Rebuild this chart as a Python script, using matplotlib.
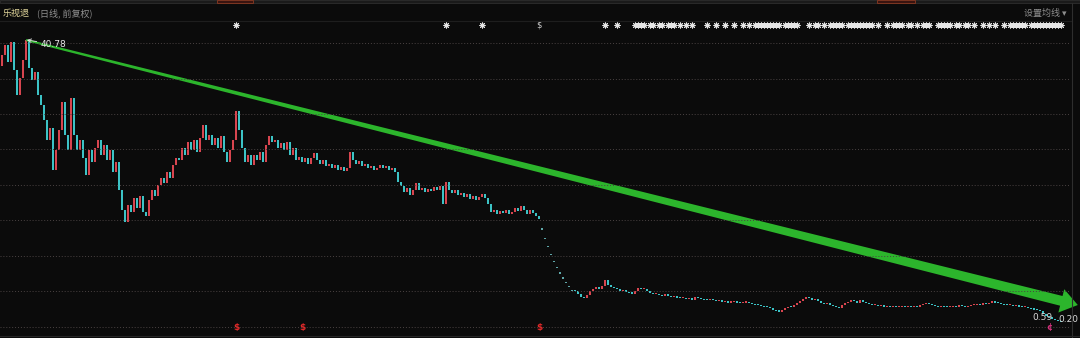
import matplotlib
matplotlib.use('Agg')
import matplotlib.pyplot as plt
import numpy as np
from matplotlib.patches import Polygon, Rectangle
from matplotlib.transforms import IdentityTransform

plt.rcParams['font.family'] = ['Noto Sans CJK SC', 'DejaVu Sans']
plt.rcParams['axes.unicode_minus'] = False

# 停牌前日线收盘价 (前复权)
pre_close = [38.6, 40.1, 37.6, 40.5, 36.5, 32.9, 35.3, 37.9, 40.78, 36.8,
             35.0, 36.2, 32.9, 31.4, 29.3, 26.4, 28.1, 22.1, 25.0, 27.8,
             31.9, 27.1, 25.0, 32.4, 27.1, 25.0, 26.4, 23.8, 21.4, 25.0,
             23.2, 25.3, 26.4, 24.2, 25.7, 23.5, 25.0, 21.8, 23.2, 19.2,
             16.3, 14.6, 17.0, 16.0, 18.0, 16.6, 18.3, 16.0, 15.5, 17.8,
             19.2, 18.3, 19.9, 20.9, 20.2, 21.8, 20.9, 22.8, 23.8, 23.5,
             25.3, 24.2, 26.1, 25.0, 26.4, 24.7, 26.7, 28.5, 26.4, 27.1,
             25.7, 26.7, 25.3, 27.0, 24.7, 23.2, 25.0, 26.4, 30.6, 27.8,
             25.3, 23.2, 24.2, 22.8, 24.2, 23.5, 24.7, 23.2, 25.7, 27.0,
             26.1, 26.4, 25.3, 25.9, 25.0, 26.1, 24.2, 25.3, 23.5, 24.0,
             23.2, 23.8, 22.9, 23.8, 24.5, 23.5, 23.0, 23.5, 22.6, 23.0,
             22.3, 22.8, 22.1, 22.5, 22.0, 22.3, 24.7, 23.5, 23.0, 23.4,
             22.6, 22.9, 22.3, 22.6, 22.1, 22.3, 22.8, 22.3, 22.6, 22.1,
             22.3, 21.8, 20.4, 19.8, 18.9, 19.5, 18.5, 19.2, 20.2, 19.2,
             19.5, 18.9, 19.4, 19.1, 19.7, 19.2, 19.8, 17.2, 20.4, 19.2,
             18.8, 19.2, 18.5, 18.8, 18.2, 18.6, 17.9, 18.4, 17.8, 18.2,
             18.6, 18.0, 17.2, 16.0, 16.3, 15.7, 16.2, 15.9, 16.3, 15.7,
             16.0, 16.6, 16.2, 16.9, 16.3, 15.7, 16.3, 15.9, 15.5, 15.0]
first_open = 37.0

# 复牌后一字跌停
limit_down = [13.5, 12.15, 10.94, 9.84, 8.86, 7.97, 7.18, 6.46, 5.81, 5.23, 4.71]

# 之后的收盘价
post_close = [4.6, 4.2, 3.8, 3.7, 4.1, 4.6,
              5.0, 5.2, 5.0, 5.4, 6.2,
              5.6, 5.3, 5.1,
              4.9, 4.6, 4.8, 4.5, 4.4, 4.3,
              4.7, 5.1, 4.9, 5.0,
              4.6, 4.4, 4.2, 4.3, 4.1, 4.0, 4.2, 3.9, 3.8, 3.9,
              3.7, 3.6, 3.7, 3.5, 3.6, 3.4,
              3.8, 3.6, 3.5, 3.4, 3.3, 3.4,
              3.3, 3.2, 3.3, 3.1, 3.2, 3.0, 3.1, 3.2, 3.0, 2.9, 3.0, 3.1, 2.9,
              2.8, 2.7, 2.6, 2.5, 2.4, 2.3, 2.2, 2.0, 1.8, 1.7,
              2.0, 2.2, 2.4, 2.3, 2.6, 2.9, 3.2,
              3.5, 3.8, 3.6, 3.3,
              3.5, 3.2, 3.0, 2.8, 2.9, 2.6, 2.5, 2.3, 2.2,
              2.6, 2.9, 3.1, 3.4, 3.2, 3.0, 3.3, 3.1, 2.9,
              2.8, 2.6, 2.7, 2.5, 2.6, 2.4, 2.5,
              2.4, 2.5, 2.3, 2.4, 2.5, 2.3, 2.4, 2.3, 2.5, 2.4, 2.6, 2.8,
              3.0, 2.8, 2.6,
              2.5, 2.4, 2.5, 2.4, 2.3, 2.4, 2.5, 2.4, 2.6, 2.5, 2.4, 2.5, 2.6,
              2.7, 2.8, 2.7, 2.9, 2.8, 3.0,
              3.1, 3.0, 2.9, 2.8,
              2.7, 2.6, 2.7, 2.5, 2.6, 2.4, 2.3, 2.4, 2.2, 2.1, 2.0, 1.9, 1.8,
              1.4, 1.1, 0.9, 0.7, 0.5, 0.35, 0.2]

# 信息地雷 / 标记 (K线序号)
top_marks = [78, 148, 160, 201, 205, 211, 212, 213, 214, 216, 217, 219, 220, 222,
             223, 224, 226, 228, 230, 235, 238, 241, 244, 247, 249, 251, 252, 253,
             254, 255, 256, 257, 258, 259, 261, 262, 263, 264, 265, 269, 271, 272,
             274, 276, 277, 278, 279, 280, 282, 283, 284, 285, 286, 287, 288, 289,
             290, 292, 295, 297, 298, 299, 300, 302, 303, 305, 307, 308, 309, 312,
             313, 314, 315, 316, 318, 319, 321, 322, 324, 327, 329, 331, 334, 336,
             337, 338, 339, 340, 341, 343, 344, 345, 346, 347, 348, 349, 350, 351,
             352, 353]
top_dollar = [179]
bottom_dollar = [78, 100, 179]
bottom_cent = [349]
trend_end = (358.6, 2.65)

BG = '#0b0b0b'
UP = '#d8454f'
DOWN = '#3cc3c6'

closes = np.array(pre_close + limit_down + post_close)
opens = np.empty_like(closes)
opens[0] = first_open
opens[1:] = closes[:-1]
n_pre = len(pre_close)
ld = slice(n_pre, n_pre + len(limit_down))
opens[ld] = closes[ld]
x = np.arange(len(closes))

W, H = 1080, 338
fig = plt.figure(figsize=(W / 100, H / 100), dpi=100, facecolor=BG)
ax = fig.add_axes([0, (H - 336) / H, 1, 314 / H])
ax.set_facecolor(BG)
ax.set_xlim(-2 / 3, 1078 / 3)
ax.set_ylim(-1.81, 43.37)
ax.axis('off')

# 网格
for f in np.linspace(0.029, 0.933, 9):
    ax.plot([0, 1070 / 1080], [f, f], transform=ax.transAxes, color='#4a4242',
            lw=0.7, ls=(0, (1, 2)))

# K线
cols = np.where(closes > opens, UP, DOWN)
cols[ld] = '#5fa8aa'
body = np.maximum(np.abs(closes - opens), 0.16)
ax.bar(x, body, bottom=np.minimum(opens, closes), width=0.55, color=cols, linewidth=0)

# 最高价标注
pk = int(np.argmax(closes))
ax.annotate(f'{closes[pk]:.2f}', xy=(pk + 0.3, closes[pk]), xytext=(10, -3),
            textcoords='offset points', color='#e8e8e8', fontsize=6.5,
            family='DejaVu Sans', va='center',
            arrowprops=dict(arrowstyle='->', color='#e8e8e8', lw=0.6,
                            shrinkA=1, shrinkB=0))
ax.text(1030 / 3, 0.8, '0.59', color='#d8d8d8', fontsize=6.5, family='DejaVu Sans',
        va='center')
lo = int(np.argmin(closes))
ax.annotate(f'{closes[lo]:.2f}', xy=(lo, closes[lo]), xytext=(-2, 2),
            textcoords='offset points', color='#d8d8d8', fontsize=6.5,
            family='DejaVu Sans', va='center', ha='left')

# 趋势箭头
fig.canvas.draw()
p0 = ax.transData.transform((pk, closes[pk]))
p1 = ax.transData.transform(trend_end)
d = (p1 - p0) / np.hypot(*(p1 - p0))
nrm = np.array([-d[1], d[0]])
pe = p1 - d * 17
poly = [p0 + nrm * 1.0, pe + nrm * 5.0, pe + nrm * 12, p1,
        pe - nrm * 12, pe - nrm * 5.0, p0 - nrm * 1.0]
ax.add_patch(Polygon(poly, closed=True, transform=IdentityTransform(),
                     facecolor='#2cb52c', edgecolor='none', clip_on=False))

# 标记
xt = ax.get_xaxis_transform()
ax.scatter(top_marks, [0.99] * len(top_marks), transform=xt, marker=(8, 2, 0),
           s=14, color='#e6e6e6', linewidths=0.7, clip_on=False)
for i in top_dollar:
    ax.text(i, 0.99, '$', transform=xt, color='#d0d0d0', fontsize=6, ha='center',
            va='center', family='DejaVu Sans')
for i in bottom_dollar:
    ax.text(i, 0.028, '$', transform=xt, color='#e02a2a', fontsize=6.5,
            ha='center', va='center', family='DejaVu Sans', fontweight='bold')
for i in bottom_cent:
    ax.text(i, 0.028, '¢', transform=xt, color='#d0307a', fontsize=6.5,
            ha='center', va='center', family='DejaVu Sans', fontweight='bold')

# 标题栏与边框
def fx(px):
    return px / W


def fy(py):
    return 1 - py / H


fig.add_artist(Rectangle((0, fy(3)), 1, 3 / H, transform=fig.transFigure,
                         facecolor='#1a1a1a', edgecolor='#2e2e2e', lw=0.6))
for a, b in [(217, 253), (877, 915)]:
    fig.add_artist(Rectangle((fx(a), fy(3)), (b - a) / W, 3 / H,
                             transform=fig.transFigure, facecolor='#3a1410',
                             edgecolor='#8a3a22', lw=0.6))
fig.add_artist(plt.Line2D([0, fx(1072)], [fy(21), fy(21)], transform=fig.transFigure,
                          color='#1e1e1e', lw=0.8))
fig.add_artist(plt.Line2D([fx(1072), fx(1072)], [0, fy(3)], transform=fig.transFigure,
                          color='#2e2e2e', lw=0.8))
fig.add_artist(plt.Line2D([0, 1], [fy(336), fy(336)], transform=fig.transFigure,
                          color='#262626', lw=0.8))

fig.text(fx(3), fy(13), '乐视退', color='#e0d59a', fontsize=6.5, va='center')
fig.text(fx(37), fy(13), '(日线, 前复权)', color='#8e8e8e', fontsize=6.5, va='center')
fig.text(fx(1066), fy(13), '设置均线 ▾', color='#8e8e8e', fontsize=6.5, va='center',
         ha='right')

fig.savefig('out.png', dpi=100, facecolor=BG)
